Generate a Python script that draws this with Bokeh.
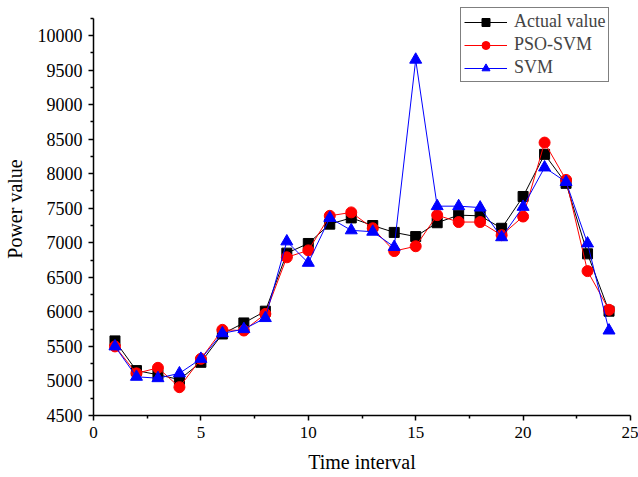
from bokeh.plotting import figure
from bokeh.models import Range1d, FixedTicker, Legend, LegendItem
from bokeh.embed import file_html
from bokeh.resources import INLINE

time = list(range(1, 25))
actual = [5580, 5150, 5090, 5020, 5270, 5680, 5840, 6010, 6850, 6990, 7270, 7360,
          7250, 7150, 7090, 7290, 7400, 7390, 7210, 7670, 8280, 7860, 6840, 6010]
pso_svm = [5500, 5110, 5190, 4910, 5320, 5740, 5730, 5970, 6790, 6890, 7390, 7440,
           7210, 6880, 6950, 7400, 7300, 7300, 7110, 7380, 8450, 7910, 6590, 6030]
svm = [5500, 5060, 5040, 5110, 5320, 5690, 5750, 5910, 7020, 6710, 7360, 7180,
       7160, 6940, 9650, 7530, 7530, 7510, 7080, 7520, 8090, 7880, 6990, 5730]

x_ticks = [0, 5, 10, 15, 20, 25]
y_ticks = list(range(4500, 10001, 500))

FONT = "Liberation Serif"

p = figure(width=638, height=477, output_backend="svg", toolbar_location=None,
           x_range=Range1d(0, 25), y_range=Range1d(4500, 10478),
           min_border_left=93, min_border_right=8, min_border_top=2,
           min_border_bottom=62)
p.outline_line_color = None
p.xgrid.visible = False
p.ygrid.visible = False
p.background_fill_color = "white"
p.border_fill_color = "white"

p.xaxis.ticker = FixedTicker(ticks=x_ticks, minor_ticks=[2.5, 7.5, 12.5, 17.5, 22.5])
p.yaxis.ticker = FixedTicker(ticks=y_ticks, minor_ticks=[v + 250 for v in y_ticks])
p.yaxis.bounds = (4500, 10250)
p.xaxis.axis_label = "Time interval"
p.yaxis.axis_label = "Power value"

for ax in (p.xaxis[0], p.yaxis[0]):
    ax.axis_line_width = 1.5
    ax.axis_line_color = "black"
    ax.major_tick_line_width = 1.5
    ax.minor_tick_line_width = 1.5
    ax.major_tick_out = 5
    ax.major_tick_in = 0
    ax.minor_tick_out = 3
    ax.minor_tick_in = 0
    ax.major_label_text_font = FONT
    ax.major_label_text_color = "black"
    ax.axis_label_text_font = FONT
    ax.axis_label_text_font_size = "20px"
    ax.axis_label_text_font_style = "normal"
    ax.axis_label_text_color = "black"
    ax.major_label_standoff = 6

p.xaxis[0].major_label_text_font_size = "17px"
p.yaxis[0].major_label_text_font_size = "18px"
p.xaxis[0].axis_label_standoff = 10
p.yaxis[0].axis_label_standoff = 9

l1 = p.line(time, actual, line_color="black", line_width=1)
m1 = p.scatter(time, actual, marker="square", size=10, fill_color="black", line_color="black")
l2 = p.line(time, pso_svm, line_color="red", line_width=1)
m2 = p.scatter(time, pso_svm, marker="circle", size=11, fill_color="red", line_color="red")
l3 = p.line(time, svm, line_color="blue", line_width=1)
m3 = p.scatter(time, svm, marker="triangle", size=12, fill_color="blue", line_color="blue")

legend = Legend(items=[
    LegendItem(label="Actual value", renderers=[l1, m1]),
    LegendItem(label="PSO-SVM", renderers=[l2, m2]),
    LegendItem(label="SVM", renderers=[l3, m3]),
], location=(367, 333))
legend.border_line_color = "black"
legend.border_line_width = 1
legend.background_fill_color = "white"
legend.background_fill_alpha = 1
legend.label_text_font = FONT
legend.label_text_font_size = "18px"
legend.glyph_width = 43
legend.glyph_height = 20
legend.spacing = 2
legend.padding = 3
legend.margin = 0
legend.label_standoff = 7
p.add_layout(legend)

open("out.html", "w").write(file_html(p, INLINE))
